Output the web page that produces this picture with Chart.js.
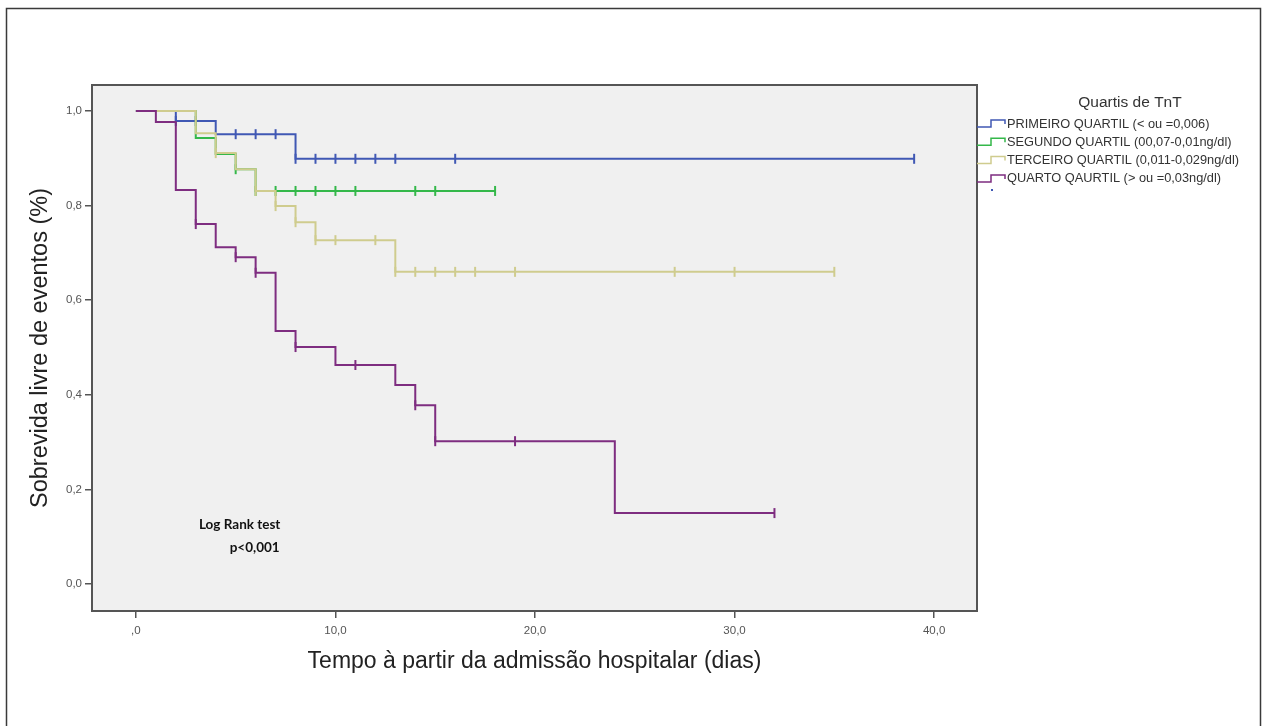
<!DOCTYPE html>
<html>
<head>
<meta charset="utf-8">
<title>Sobrevida livre de eventos por quartis de TnT</title>
<script src="https://cdn.jsdelivr.net/npm/chart.js@4.4.1/dist/chart.umd.min.js"></script>
<style>
  html, body { margin: 0; padding: 0; background: #fff; }
  #wrap { width: 1267px; height: 726px; }
</style>
</head>
<body>
<div id="wrap"><canvas id="kmChart" width="1267" height="726"></canvas></div>
<script>
// Kaplan-Meier curves (time in days, survival fraction)
const groupLabels = [
  "PRIMEIRO QUARTIL (< ou =0,006)",
  "SEGUNDO QUARTIL (00,07-0,01ng/dl)",
  "TERCEIRO QUARTIL (0,011-0,029ng/dl)",
  "QUARTO QAURTIL (> ou =0,03ng/dl)"
];
const legendTitle = "Quartis de TnT";

const q1Times = [0, 2, 4, 8, 39];
const q1Surv = [1, 0.979, 0.951, 0.899, 0.899];
const q1Censored = [2, 3, 5, 6, 7, 8, 9, 10, 11, 12, 13, 16, 39];

const q2Times = [0, 3, 4, 5, 6, 18];
const q2Surv = [1, 0.943, 0.909, 0.877, 0.831, 0.831];
const q2Censored = [5, 6, 7, 8, 9, 10, 11, 14, 15, 18];

const q3Times = [0, 3, 4, 5, 6, 7, 8, 9, 13, 35];
const q3Surv = [1, 0.953, 0.911, 0.877, 0.831, 0.799, 0.765, 0.727, 0.66, 0.66];
const q3Censored = [4, 6, 7, 8, 9, 10, 12, 13, 14, 15, 16, 17, 19, 27, 30, 35];

const q4Times = [0, 1, 2, 3, 4, 5, 6, 7, 8, 10, 13, 14, 15, 24, 32];
const q4Surv = [1, 0.977, 0.833, 0.761, 0.712, 0.691, 0.658, 0.535, 0.501, 0.463, 0.421, 0.378, 0.302, 0.15, 0.15];
const q4Censored = [3, 5, 6, 8, 11, 14, 15, 19, 32];

const xTickValues = [0, 10, 20, 30, 40];
const xTickLabels = [",0", "10,0", "20,0", "30,0", "40,0"];
const yTickValues = [0, 0.2, 0.4, 0.6, 0.8, 1.0];
const yTickLabels = ["0,0", "0,2", "0,4", "0,6", "0,8", "1,0"];

const logRankLines = ["Log Rank test", "p<0,001"];

const colors = ["#4058b4", "#34b84a", "#cfcc8e", "#7e2d80"];

// survival value at time t (step function, right-continuous)
function survAt(times, surv, t) {
  let v = surv[0];
  for (let i = 0; i < times.length; i++) {
    if (times[i] <= t) v = surv[i];
  }
  return v;
}

function curve(times, surv) {
  return times.map((t, i) => ({ x: t, y: surv[i] }));
}

function censorMarks(times, surv, cens) {
  return cens.map(t => ({ x: t, y: survAt(times, surv, t) }));
}

const groups = [
  [q1Times, q1Surv, q1Censored],
  [q2Times, q2Surv, q2Censored],
  [q3Times, q3Surv, q3Censored],
  [q4Times, q4Surv, q4Censored]
];

// index 0 is drawn on top, so put the last quartile first
const datasets = [];
[3, 2, 1, 0].forEach(g => {
  const [t, s, c] = groups[g];
  datasets.push({
    label: groupLabels[g] + " censurado",
    data: censorMarks(t, s, c),
    showLine: false,
    pointStyle: "line",
    rotation: 90,
    pointRadius: 5,
    pointBorderWidth: 2,
    borderColor: colors[g],
    backgroundColor: colors[g]
  });
  datasets.push({
    label: groupLabels[g],
    data: curve(t, s),
    showLine: true,
    stepped: true,
    borderColor: colors[g],
    borderWidth: 2,
    pointRadius: 0,
    fill: false
  });
});

const sans = '"Liberation Sans", Arial, sans-serif';

const framePlugin = {
  id: "frame",
  beforeDraw(chart) {
    const { ctx, chartArea: a } = chart;
    ctx.save();
    ctx.fillStyle = "#fff";
    ctx.fillRect(0, 0, chart.width, chart.height);
    ctx.strokeStyle = "#3a3a3a";
    ctx.lineWidth = 1.5;
    ctx.strokeRect(6.5, 8.5, 1254, 740);
    ctx.fillStyle = "#f0f0f0";
    ctx.fillRect(a.left, a.top, a.right - a.left, a.bottom - a.top);
    ctx.restore();
  },
  afterDraw(chart) {
    const { ctx, chartArea: a, scales } = chart;
    ctx.save();
    // plot box
    ctx.strokeStyle = "#555";
    ctx.lineWidth = 2;
    ctx.strokeRect(a.left, a.top, a.right - a.left, a.bottom - a.top);

    // legend
    ctx.fillStyle = "#333";
    ctx.font = "15.5px " + sans;
    ctx.textAlign = "center";
    ctx.textBaseline = "middle";
    ctx.fillText(legendTitle, a.right + 153, 103);
    ctx.font = "12.8px " + sans;
    ctx.textAlign = "left";
    groupLabels.forEach((lab, i) => {
      const y = 124 + i * 18.3;
      ctx.strokeStyle = colors[i];
      ctx.lineWidth = 1.5;
      ctx.beginPath();
      ctx.moveTo(a.right, y + 3);
      ctx.lineTo(a.right + 14, y + 3);
      ctx.lineTo(a.right + 14, y - 4);
      ctx.lineTo(a.right + 28, y - 4);
      ctx.lineTo(a.right + 28, y);
      ctx.stroke();
      ctx.fillStyle = "#333";
      ctx.fillText(lab, a.right + 30, y);
    });
    ctx.fillStyle = colors[0];
    ctx.fillRect(a.right + 14, 189, 2, 2);

    // log rank note
    ctx.fillStyle = "#111";
    ctx.font = 'bold 13.5px Lato, "Liberation Sans", sans-serif';
    ctx.textAlign = "center";
    ctx.fillText(logRankLines[0], scales.x.getPixelForValue(5.2), scales.y.getPixelForValue(0.125));
    ctx.fillText(logRankLines[1], scales.x.getPixelForValue(5.95), scales.y.getPixelForValue(0.076));
    ctx.restore();
  }
};

new Chart(document.getElementById("kmChart"), {
  type: "scatter",
  data: { datasets: datasets },
  plugins: [framePlugin],
  options: {
    responsive: false,
    animation: false,
    layout: { padding: { top: 85, right: 290, bottom: 0, left: 0 } },
    plugins: {
      legend: { display: false },
      tooltip: { enabled: false }
    },
    scales: {
      x: {
        type: "linear",
        min: -2.2,
        max: 42.15,
        afterFit(scale) { scale.height = 115; },
        afterBuildTicks(scale) { scale.ticks = xTickValues.map(v => ({ value: v })); },
        ticks: {
          color: "#555",
          font: { family: sans, size: 11.5 },
          padding: 6,
          maxRotation: 0,
          callback: (v) => xTickLabels[xTickValues.indexOf(v)]
        },
        grid: { drawOnChartArea: false, drawTicks: true, tickLength: 7, color: "#555", lineWidth: 1.5 },
        border: { display: false },
        title: {
          display: true,
          text: "Tempo à partir da admissão hospitalar (dias)",
          color: "#222",
          font: { family: sans, size: 23 },
          padding: { top: 0, bottom: 51 }
        }
      },
      y: {
        min: -0.057,
        max: 1.055,
        afterFit(scale) { scale.width = 92; },
        afterBuildTicks(scale) { scale.ticks = yTickValues.map(v => ({ value: v })); },
        ticks: {
          color: "#555",
          font: { family: sans, size: 11.5 },
          padding: 3,
          callback: (v) => yTickLabels[yTickValues.indexOf(v)]
        },
        grid: { drawOnChartArea: false, drawTicks: true, tickLength: 7, color: "#555", lineWidth: 1.5 },
        border: { display: false },
        title: {
          display: true,
          text: "Sobrevida livre de eventos (%)",
          color: "#222",
          font: { family: sans, size: 23.5 },
          padding: { top: 26, bottom: 0 }
        }
      }
    }
  }
});
</script>
</body>
</html>
